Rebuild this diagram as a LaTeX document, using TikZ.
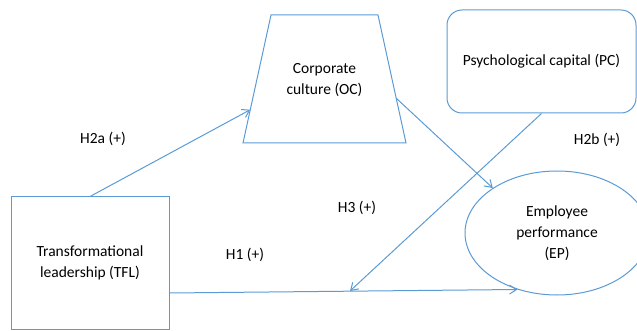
\documentclass[tikz,border=0pt]{standalone}
\usepackage{fontspec}
\setmainfont{Carlito}
\usetikzlibrary{arrows.meta,shapes.geometric,calc,positioning}

\definecolor{lineblue}{RGB}{91,155,213}

\begin{document}
\begin{tikzpicture}[x=1pt,y=-1pt,>={Straight Barb[length=7pt,width=9pt]},
    every node/.style={font=\fontsize{15.5}{21}\selectfont,align=center},
    box/.style={draw=lineblue,line width=1pt},
    link/.style={->,draw=lineblue,line width=1pt}]
    \useasboundingbox (0,0) rectangle (637,331);
    \clip (0,0) rectangle (637,331);

    \node[box, minimum width=158pt, minimum height=132pt] (TFL) at (90,263)
        {Transformational\\leadership (TFL)};

    % trapezoid for corporate culture
    \coordinate (OCbl) at (243,143);
    \coordinate (OCtl) at (271,15);
    \coordinate (OCtr) at (378,15);
    \coordinate (OCbr) at (406,143);
    \draw[box] (OCbl) -- (OCtl) -- (OCtr) -- (OCbr) -- cycle;
    \node (OC) at (324.5,80) {Corporate\\culture (OC)};

    \node[box, rounded corners=15pt, minimum width=189pt, minimum height=103pt]
        (PC) at (541.5,61.5) {Psychological capital (PC)};
    \node[box, ellipse, minimum width=184pt, minimum height=124pt, inner sep=0pt]
        (EP) at (557,233) {Employee\\performance\\(EP)};

    \node (h2a) at (103,139) {H2a (+)};
    \node (h2b) at (597,140) {H2b (+)};
    \node (h3) at (357,208) {H3 (+)};
    \node (h1) at (245,255) {H1 (+)};

    \coordinate (h3end) at (350,291);

    \path[link] (TFL.north) -- ($(OCbl)!0.26!(OCtl)$);
    \path[link] ($(OCbr)!0.35!(OCtr)$) -- (EP.145);
    \path[link] (PC.south) -- (h3end);
    \path[link] ([yshift=-30pt]TFL.east) -- (EP.235);
\end{tikzpicture}
\end{document}
